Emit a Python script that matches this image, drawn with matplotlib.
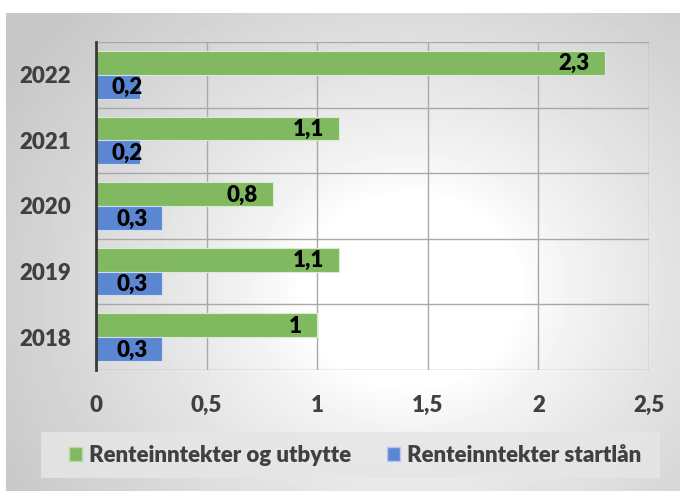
import numpy as np
import matplotlib
matplotlib.use('Agg')
import matplotlib.pyplot as plt
from matplotlib.patches import Patch, Rectangle

# data
years = ['2018', '2019', '2020', '2021', '2022']
renter_utbytte = [1.0, 1.1, 0.8, 1.1, 2.3]
renter_startlan = [0.3, 0.3, 0.3, 0.2, 0.2]
series_names = ['Renteinntekter og utbytte', 'Renteinntekter startlån']
xticks = [0, 0.5, 1, 1.5, 2, 2.5]

green = '#80b95f'
blue = '#5b86d1'
txt_grey = '#404040'

plt.rcParams['font.family'] = ['Lato', 'DejaVu Sans']
plt.rcParams['font.weight'] = 'heavy'

W, H = 680, 491
fig = plt.figure(figsize=(W / 100, H / 100), dpi=100)

# radial gradient background for the chart area
bg = fig.add_axes([6 / W, 0, (W - 6) / W, (H - 13) / H])
bg.set_axis_off()
yy, xx = np.mgrid[13:H, 6:W]
d = np.hypot(xx - 410, (yy - 290) * 1.15)
v = 1 - 0.22 * np.clip((d - 110) / 360, 0, 1) ** 0.8
bg.imshow(v, cmap='gray', vmin=0, vmax=1, aspect='auto', interpolation='bilinear')

# plot area (pixels: left 96, right 649, top 42, bottom 370)
ax = fig.add_axes([96 / W, 1 - 370 / H, (649 - 96) / W, (370 - 42) / H])
ax.set_facecolor('none')

y = np.arange(len(years))
h = 0.364
b1 = ax.barh(y + h / 2, renter_utbytte, height=h, color=green, edgecolor='#d8ecd0', linewidth=0.8, zorder=3)
b2 = ax.barh(y - h / 2, renter_startlan, height=h, color=blue, edgecolor='#d0dcf2', linewidth=0.8, zorder=3)

ax.set_xlim(0, 2.5)
ax.set_ylim(-0.5, len(years) - 0.5)
ax.set_xticks(xticks)
ax.set_xticklabels([f'{t:g}'.replace('.', ',') for t in xticks])
ax.set_yticks(y)
ax.set_yticklabels(years)
ax.tick_params(length=0, labelsize=16, labelcolor=txt_grey)
ax.tick_params(axis='y', pad=18)
ax.tick_params(axis='x', pad=18)

# gridlines: vertical at ticks, horizontal at category boundaries
for t in xticks[1:]:
    ax.axvline(t, color='#a8a8a8', lw=1, zorder=1)
for b in np.arange(-0.5, len(years), 1.0):
    ax.axhline(b, color='#a8a8a8', lw=1, zorder=1)

for s in ['top', 'right', 'bottom']:
    ax.spines[s].set_visible(False)
ax.spines['left'].set_color('#3a3a3a')
ax.spines['left'].set_linewidth(2)
ax.spines['left'].set_zorder(5)

# value labels, inside end; pushed right if they would hit the axis
fig.canvas.draw()
renderer = fig.canvas.get_renderer()
ax_left = ax.transData.transform((0, 0))[0]
for bars, vals in [(b1, renter_utbytte), (b2, renter_startlan)]:
    for bar, val in zip(bars, vals):
        yc = bar.get_y() + bar.get_height() / 2
        t = ax.annotate(f'{val:g}'.replace('.', ','), (val, yc), xytext=(-15, -1),
                        textcoords='offset pixels', ha='right', va='center',
                        fontsize=16, color='black', zorder=6)
        ext = t.get_window_extent(renderer)
        if ext.x0 < ax_left + 16:
            t.set_position((ax_left + 16 + ext.width - ax.transData.transform((val, 0))[0], -1))

# legend: grey box plus centred entries
fig.patches.append(Rectangle((41 / W, 1 - 478 / H), (660 - 41) / W, (478 - 432) / H,
                             transform=fig.transFigure, facecolor='#e6e6e6', edgecolor='none',
                             alpha=0.85, zorder=0))
handles = [Patch(facecolor=green, edgecolor='#b8dca8'), Patch(facecolor=blue, edgecolor='#b8c8ec')]
leg = fig.legend(handles, series_names, loc='center',
                 bbox_to_anchor=(355 / W, 1 - 455 / H),
                 ncol=2, fontsize=16, frameon=False,
                 handlelength=0.6, handleheight=0.6, handletextpad=0.3,
                 columnspacing=1.6, borderaxespad=0)
for tx in leg.get_texts():
    tx.set_color(txt_grey)

fig.savefig('out.png', dpi=100)
